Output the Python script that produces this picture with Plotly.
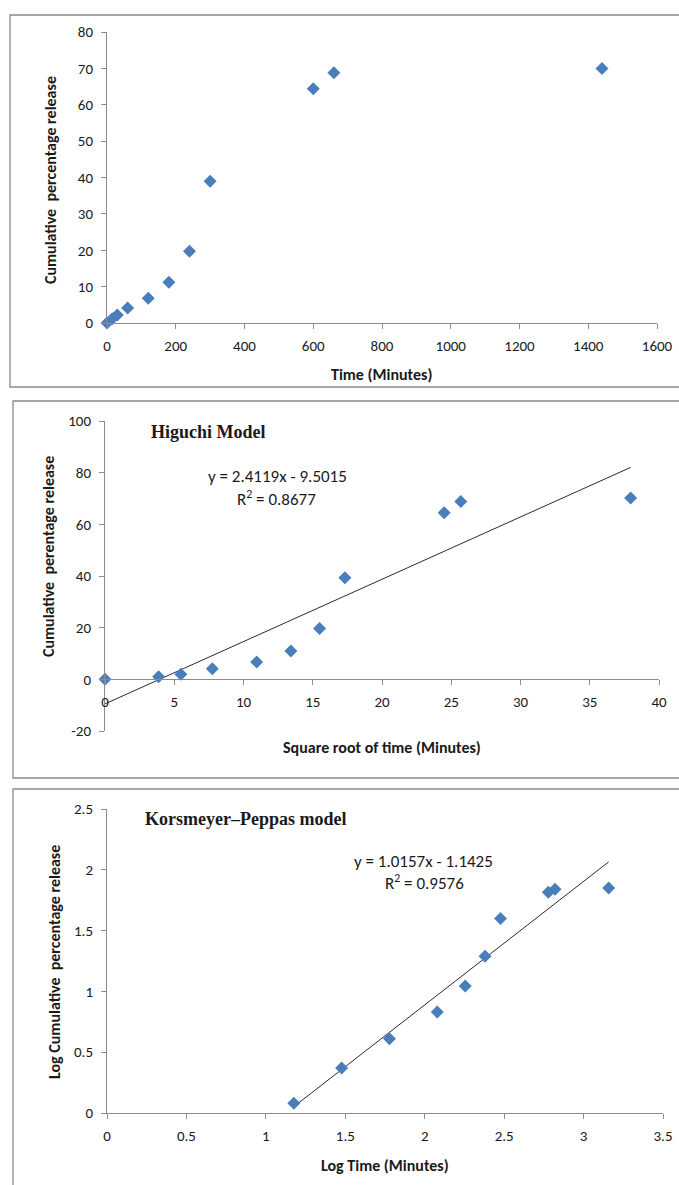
import numpy as np
import plotly.graph_objects as go

W, H = 679, 1185

# ---- data ----
time_min = [0, 15, 30, 60, 120, 180, 240, 300, 600, 660, 1440]
release_pct = [0, 1.2, 2.2, 4.1, 6.8, 11.2, 19.7, 39.0, 64.4, 68.8, 70.0]

sqrt_time = [0, 3.87, 5.48, 7.75, 10.95, 13.42, 15.49, 17.32, 24.49, 25.69, 37.95]
higuchi_release = [0, 1.0, 2.0, 4.1, 6.7, 11.0, 19.7, 39.3, 64.5, 68.8, 70.2]
higuchi_slope, higuchi_intercept = 2.4119, -9.5015

log_time = [1.176, 1.477, 1.778, 2.079, 2.255, 2.380, 2.477, 2.778, 2.820, 3.158]
log_release = [0.08, 0.37, 0.61, 0.83, 1.045, 1.29, 1.60, 1.815, 1.84, 1.85]
kp_slope, kp_intercept = 1.0157, -1.1425

x1_ticks = [0, 200, 400, 600, 800, 1000, 1200, 1400, 1600]
y1_ticks = [0, 10, 20, 30, 40, 50, 60, 70, 80]
x2_ticks = [0, 5, 10, 15, 20, 25, 30, 35, 40]
y2_ticks = [-20, 0, 20, 40, 60, 80, 100]
x3_ticks = [0, 0.5, 1, 1.5, 2, 2.5, 3, 3.5]
y3_ticks = [0, 0.5, 1, 1.5, 2, 2.5]

# ---- helpers ----
def px(x):
    return x / W

def py(y):
    return 1 - y / H

BLUE = "#4A7EBB"
AXC = "#8c8c8c"
TXT = "#1a1a1a"
SANS = "Carlito, Lato, Roboto, sans-serif"
TICKFONT = dict(family=SANS, size=15, color=TXT)
SERIF = "Liberation Serif, DejaVu Serif, serif"
MSIZE = 10

fig = go.Figure()

# panel 1
fig.add_trace(go.Scatter(x=time_min, y=release_pct, mode="markers",
                         marker=dict(symbol="diamond", size=MSIZE, color=BLUE),
                         xaxis="x", yaxis="y", showlegend=False, cliponaxis=False))
# panel 2
hx = np.array([min(sqrt_time), max(sqrt_time)])
fig.add_trace(go.Scatter(x=hx, y=higuchi_slope * hx + higuchi_intercept, mode="lines",
                         line=dict(color="#2b2b2b", width=1),
                         xaxis="x2", yaxis="y2", showlegend=False))
fig.add_trace(go.Scatter(x=sqrt_time, y=higuchi_release, mode="markers",
                         marker=dict(symbol="diamond", size=MSIZE, color=BLUE),
                         xaxis="x2", yaxis="y2", showlegend=False, cliponaxis=False))
# panel 3
kx = np.array([min(log_time), max(log_time)])
fig.add_trace(go.Scatter(x=kx, y=kp_slope * kx + kp_intercept, mode="lines",
                         line=dict(color="#2b2b2b", width=1),
                         xaxis="x3", yaxis="y3", showlegend=False))
fig.add_trace(go.Scatter(x=log_time, y=log_release, mode="markers",
                         marker=dict(symbol="diamond", size=MSIZE, color=BLUE),
                         xaxis="x3", yaxis="y3", showlegend=False, cliponaxis=False))

def axis(domain, rng, ticks, standoff, **kw):
    d = dict(domain=domain, range=rng, tickvals=ticks, ticktext=[f"{t:g}" for t in ticks],
             showgrid=False, zeroline=False, showline=True, linecolor=AXC, linewidth=1,
             ticks="outside", ticklen=5, tickcolor=AXC, tickfont=TICKFONT, fixedrange=True,
             automargin=False, ticklabelstandoff=standoff)
    d.update(kw)
    return d

# y=0 position of panel 2 in paper coords
y2_dom = [py(731), py(421)]
y2_zero = y2_dom[0] + (y2_dom[1] - y2_dom[0]) * (0 - (-20)) / (100 - (-20))

fig.update_layout(
    width=W, height=H, margin=dict(l=0, r=0, t=0, b=0, pad=0, autoexpand=False),
    autosize=False,
    paper_bgcolor="white", plot_bgcolor="white",
    xaxis=axis([px(107), px(657)], [0, 1600], x1_ticks, 4, anchor="y"),
    yaxis=axis([py(323), py(32)], [0, 80], y1_ticks, 5, anchor="x"),
    xaxis2=axis([px(105), px(659)], [0, 40], x2_ticks, 4, anchor="free", position=y2_zero),
    yaxis2=axis(y2_dom, [-20, 100], y2_ticks, 5, anchor="x2"),
    xaxis3=axis([px(107), px(663)], [0, 3.5], x3_ticks, 4, anchor="y3"),
    yaxis3=axis([py(1113), py(809)], [0, 2.5], y3_ticks, 5, anchor="x3"),
)

# panel borders
border = dict(color="#8a8a8a", width=1.3)
fig.add_shape(type="rect", xref="paper", yref="paper", x0=px(10), x1=px(700), y0=py(387), y1=py(15), line=border)
fig.add_shape(type="rect", xref="paper", yref="paper", x0=px(13), x1=px(700), y0=py(778), y1=py(401), line=border)
fig.add_shape(type="rect", xref="paper", yref="paper", x0=px(13), x1=px(700), y0=py(1210), y1=py(789), line=border)

def text(x, y, s, size=16, bold=True, angle=0, family=SANS, color=TXT):
    if bold:
        s = f"<b>{s}</b>"
    fig.add_annotation(x=px(x), y=py(y), xref="paper", yref="paper", text=s, showarrow=False,
                       textangle=angle, font=dict(family=family, size=size, color=color),
                       xanchor="center", yanchor="middle")

# panel 1 titles
text(50, 180, "Cumulative  percentage release", angle=-90)
text(381, 374, "Time (Minutes)")
# panel 2 titles
text(48, 557, "Cumulative  perentage release", angle=-90)
text(382, 747, "Square root of time (Minutes)")
text(208, 432, "Higuchi Model", size=18, family=SERIF)
text(277, 477, "y = 2.4119x - 9.5015", bold=False, size=17)
text(276, 498, "R<sup>2</sup> = 0.8677", bold=False, size=17)
# panel 3 titles
text(54, 962, "Log Cumulative  percentage release", angle=-90)
text(385, 1165, "Log Time (Minutes)")
text(245, 819, "Korsmeyer–Peppas model", size=18, family=SERIF)
text(423, 861, "y = 1.0157x - 1.1425", bold=False, size=17)
text(424, 882, "R<sup>2</sup> = 0.9576", bold=False, size=17)

fig.write_html("out.html", config={"displayModeBar": False, "responsive": False},
               post_script="document.body.style.margin='0';document.body.style.overflow='hidden';")
